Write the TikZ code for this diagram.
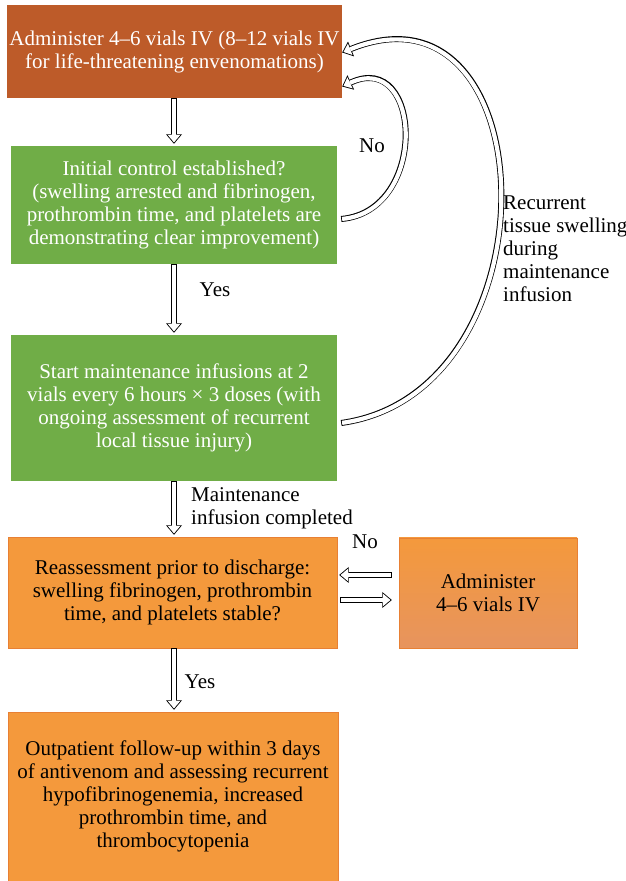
\documentclass[tikz,border=0pt]{standalone}
\usepackage{fontspec}
\setmainfont{Liberation Serif}
\usetikzlibrary{arrows.meta,positioning,calc}

\definecolor{brownbox}{RGB}{189,91,41}
\definecolor{greenbox}{RGB}{112,173,71}
\definecolor{orangebox}{RGB}{244,153,60}
\definecolor{orangeline}{RGB}{232,128,52}
\definecolor{orangelow}{RGB}{231,148,94}

\begin{document}
\begin{tikzpicture}[
        x=1pt, y=1pt,
        every node/.style={font=\fontsize{21}{23}\selectfont},
        box/.style={rectangle, align=center, inner sep=0pt},
        brown/.style={box, fill=brownbox, text=white},
        green/.style={box, fill=greenbox, text=white},
        orange/.style={box, fill=orangebox, draw=orangeline, thin, text=black},
        % hollow block arrow: black body, white inside drawn on top
        fat/.style={line width=6pt,
            -{Triangle[length=9.5pt, width=16pt, line width=0pt]},
            postaction={draw=white, line width=4.2pt, shorten <=0.9pt, shorten >=1.4pt,
                -{Triangle[length=7.2pt, width=12.2pt, line width=0pt]}}},
        lbl/.style={align=left, inner sep=0pt},
    ]
    \useasboundingbox (0,0) rectangle (626,881);
    % boxes
    \node[brown, minimum width=335, minimum height=93] at (174.5,829.5) (admin)
        {Administer 4--6 vials IV (8--12 vials IV\\for life-threatening envenomations)};
    \node[green, minimum width=326, minimum height=118] at (174,676) (ctrl)
        {Initial control established?\\(swelling arrested and fibrinogen,\\prothrombin time, and platelets are\\demonstrating clear improvement)};
    \node[green, minimum width=326, minimum height=146] at (174,473) (maint)
        {Start maintenance infusions at 2\\vials every 6 hours × 3 doses (with\\ongoing assessment of recurrent\\local tissue injury)};
    \node[orange, minimum width=329, minimum height=111] at (172.5,288.5) (reass)
        {Reassessment prior to discharge:\\swelling fibrinogen, prothrombin\\time, and platelets stable?};
    \node[orange, top color=orangebox, bottom color=orangelow,
          minimum width=178, minimum height=110] at (488,288) (admin2)
        {Administer\\4--6 vials IV};
    \node[orange, minimum width=330, minimum height=169] at (173,84.5) (follow)
        {Outpatient follow-up within 3 days\\of antivenom and assessing recurrent\\hypofibrinogenemia, increased\\prothrombin time, and\\thrombocytopenia};

    % straight arrows
    \draw[fat] (admin.south -| ctrl.north) -- ([yshift=2pt]ctrl.north);
    \draw[fat] (ctrl.south) -- ([yshift=2pt]maint.north);
    \draw[fat] (maint.south) -- ([yshift=2pt]maint.south |- reass.north);
    \draw[fat] (reass.south -| maint.south) -- ([yshift=2pt]follow.north -| maint.south);
    \draw[fat] ([xshift=-7pt,yshift=18pt]admin2.west) -- ([xshift=2pt,yshift=18pt]admin2.west -| reass.east);
    \draw[fat] ([xshift=3pt,yshift=-7.5pt]reass.east) -- ([xshift=-7pt,yshift=-7.5pt]reass.east -| admin2.west);

    % loop arrows back to the top
    \draw[fat] ([xshift=4pt,yshift=-14pt]ctrl.east) to[out=5, in=25, looseness=1.7]
        ([yshift=-35pt]admin.east);
    \draw[fat] ([xshift=4pt,yshift=-15pt]maint.east) to[out=8, in=22, looseness=1.52]
        ([yshift=-1pt]admin.east);

    % labels
    \node at (372,735) (no1) {No};
    \node[lbl, anchor=west] at (503,632) (recur)
        {Recurrent\\tissue swelling\\during\\maintenance\\infusion};
    \node at (215,591) (yes1) {Yes};
    \node[lbl, anchor=west] at (191,373) (done)
        {Maintenance\\infusion completed};
    \node at (365,339) (no2) {No};
    \node at (200,199) (yes2) {Yes};
\end{tikzpicture}
\end{document}
